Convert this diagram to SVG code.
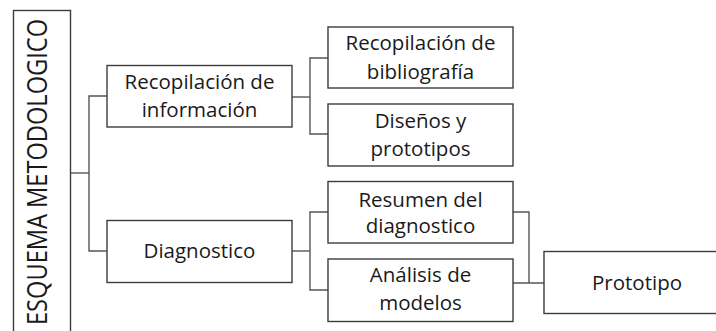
<svg xmlns="http://www.w3.org/2000/svg" width="716" height="331" viewBox="0 0 716 331">
<style>
.box{fill:#fff;stroke:#3c3c3c;stroke-width:1.4}
.t{font-family:"Open Sans","Noto Sans","Liberation Sans",sans-serif;font-size:20.5px;fill:#1a1a1a;text-anchor:middle;font-variant-ligatures:none}
.v{font-family:"Open Sans","Noto Sans","Liberation Sans",sans-serif;font-size:27px;fill:#1a1a1a}
.c{fill:none;stroke:#555;stroke-width:1.4}
</style>
<rect width="716" height="331" fill="#fff"/>
<g id="connectors">
<polyline class="c" points="70.5,173 89,173"/>
<polyline class="c" points="107,96 89,96 89,251 107,251"/>
<polyline class="c" points="292,97 310,97"/>
<polyline class="c" points="328,58 310,58 310,134 328,134"/>
<polyline class="c" points="292,251 310,251"/>
<polyline class="c" points="328,212 310,212 310,290 328,290"/>
<polyline class="c" points="513,212 529,212 529,283"/>
<polyline class="c" points="510,283 544,283"/>
</g>
<g id="n0">
<rect class="box" x="13.5" y="10.5" width="57" height="330"/>
<text class="v" transform="translate(47,325) rotate(-90) scale(0.875,1)">ESQUEMA METODOLOGICO</text>
</g>
<g id="n1">
<rect class="box" x="107" y="65.5" width="185" height="61.5"/>
<text class="t" x="199.5" y="89">Recopilación de</text>
<text class="t" x="199.5" y="116.5">información</text>
</g>
<g id="n2">
<rect class="box" x="328" y="27" width="185" height="61"/>
<text class="t" x="420.5" y="50">Recopilación de</text>
<text class="t" x="420.5" y="79">bibliografía</text>
</g>
<g id="n3">
<rect class="box" x="328" y="104" width="185" height="62"/>
<text class="t" x="420.5" y="128">Diseños y</text>
<text class="t" x="420.5" y="155.5">prototipos</text>
</g>
<g id="n4">
<rect class="box" x="107" y="220.5" width="185" height="62"/>
<text class="t" x="199.5" y="258">Diagnostico</text>
</g>
<g id="n5">
<rect class="box" x="328" y="181.5" width="185" height="61.5"/>
<text class="t" x="420.5" y="206.5">Resumen del</text>
<text class="t" x="420.5" y="233">diagnostico</text>
</g>
<g id="n6">
<rect class="box" x="328" y="259" width="185" height="62.5"/>
<text class="t" x="420.5" y="282">Análisis de</text>
<text class="t" x="420.5" y="310">modelos</text>
</g>
<g id="n7">
<rect class="box" x="544" y="251.5" width="190" height="62"/>
<text class="t" x="637" y="290">Prototipo</text>
</g>
</svg>
